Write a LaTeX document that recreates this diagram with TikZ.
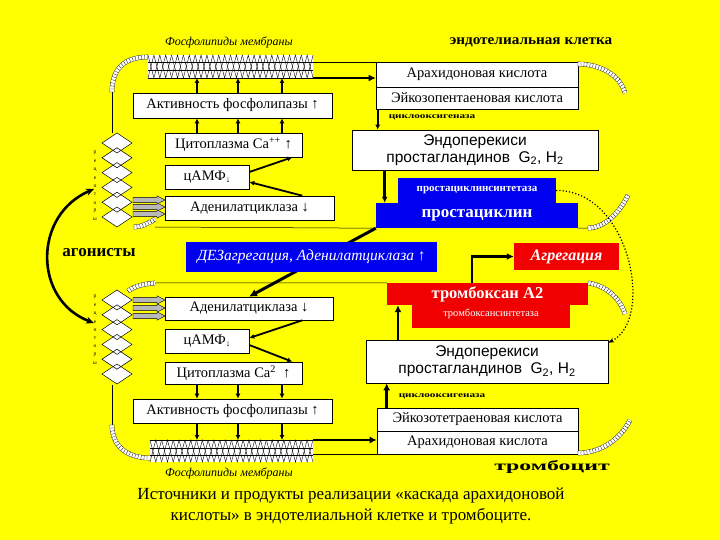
\documentclass[tikz,border=0pt]{standalone}
\usepackage{fontspec}
\setmainfont{Liberation Serif}
\newfontfamily\sansf{Liberation Sans}
\usetikzlibrary{arrows.meta,shapes.arrows,decorations.pathreplacing,calc}
\definecolor{bgyel}{RGB}{255,255,0}
\definecolor{cblue}{RGB}{0,0,240}
\definecolor{cred}{RGB}{240,0,0}
\begin{document}
\begin{tikzpicture}[x=1pt,y=-1pt,
 wbox/.style={draw=black, line width=0.6pt, fill=white, inner sep=0pt, align=center, font=\fontsize{14.5}{16}\selectfont},
 ebox/.style={wbox, font=\sansf\fontsize{15.5}{17}\selectfont},
 bbox/.style={fill=cblue, text=white, inner sep=0pt, align=center},
 rbox/.style={fill=cred, text=white, inner sep=0pt, align=center},
 arr/.style={line width=1.8pt, -{Latex[length=5pt,width=5pt]}},
 harr/.style={line width=2.6pt, -{Latex[length=7pt,width=7pt]}},
 gshape/.style={draw=black, fill=gray!55, line width=0.4pt},
 hatchedge/.style={double, double distance=4pt, line width=0.3pt},
 hatchticks/.style={line width=0.3pt, decorate, decoration={ticks, segment length=3pt, amplitude=2pt}},
 rlet/.style={font=\fontsize{5.5}{6}\selectfont, inner sep=0pt},
 enz/.style={font=\bfseries\fontsize{8}{9}\selectfont, inner sep=0pt},
 mem/.style={line width=0.5pt},
 zig/.style={line width=0.4pt}
]
\fill[bgyel] (0,0) rectangle (720,540);
\useasboundingbox (0,0) rectangle (720,540);

% ---------------- membranes (phospholipids)
\fill[white] (148,55) rectangle (313,78);
\foreach \i in {0,...,13} {
  \draw[zig] ({148+11.79*\i},55) -- ({153.9+11.79*\i},78) -- ({159.8+11.79*\i},55);
  \draw[zig] ({148+11.79*\i},78) -- ({153.9+11.79*\i},55) -- ({159.8+11.79*\i},78);
}
\draw[zig] (148,62) -- (313,62); \draw[zig] (148,70) -- (313,70); \draw[mem] (148,78) -- (313,78);
\fill[white] (150,440) rectangle (313,462);
\foreach \i in {0,...,13} {
  \draw[zig] ({150+11.64*\i},440) -- ({155.8+11.64*\i},462) -- ({161.6+11.64*\i},440);
  \draw[zig] ({150+11.64*\i},462) -- ({155.8+11.64*\i},440) -- ({161.6+11.64*\i},462);
}
\draw[mem] (150,440) -- (313,440); \draw[zig] (150,448) -- (313,448); \draw[zig] (150,455) -- (313,455);
\coordinate (tm) at (313,78); \coordinate (tm2) at (313,62);
\coordinate (bm) at (313,440); \coordinate (bm2) at (313,454);

\node[font=\itshape\fontsize{12}{13}\selectfont] (fl1) at (229,42) {Фосфолипиды мембраны};
\node[font=\itshape\fontsize{12}{13}\selectfont] (fl2) at (229,473) {Фосфолипиды мембраны};
\node[font=\bfseries\fontsize{14.5}{16}\selectfont] (endc) at (531,42) {\scalebox{1.05}[1]{эндотелиальная клетка}};
\node[font=\bfseries\fontsize{14}{16}\selectfont] (thr) at (552,467) {\scalebox{1.7}[1]{тромбоцит}};

% ---------------- right column boxes
\node[wbox, minimum width=202, minimum height=25] (ar1) at (477,74.5) {Арахидоновая кислота};
\node[wbox, minimum width=202, minimum height=22] (eik1) at (477,98) {Эйкозопентаеновая кислота};
\node[ebox, minimum width=246, minimum height=40] (endo1) at (475,150) {Эндоперекиси\\простагландинов~ G\textsubscript{2}, H\textsubscript{2}};
\node[bbox, minimum width=158, minimum height=25, font=\bfseries\fontsize{11}{12}\selectfont] (pcs) at (477,190.5) {простациклинсинтетаза};
\node[bbox, minimum width=202, minimum height=25, font=\bfseries\fontsize{17}{18}\selectfont] (pc) at (477,215.5) {простациклин};
\node[rbox, minimum width=105, minimum height=27, font=\bfseries\itshape\fontsize{16}{17}\selectfont] (agr) at (566.5,256.5) {Агрегация};
\node[rbox, minimum width=158, minimum height=26, font=\fontsize{10.5}{11}\selectfont, text depth=0pt] (txs) at (491,315) {\raisebox{4pt}{тромбоксансинтетаза}};
\node[rbox, minimum width=201, minimum height=22, font=\bfseries\fontsize{16.5}{17}\selectfont] (tx) at (487.5,294) {тромбоксан А2};
\node[ebox, minimum width=242, minimum height=43] (endo2) at (487,361.5) {Эндоперекиси\\простагландинов~ G\textsubscript{2}, H\textsubscript{2}};
\node[wbox, minimum width=201, minimum height=23] (eik2) at (477.5,419.5) {Эйкозотетраеновая кислота};
\node[wbox, minimum width=201, minimum height=23] (ar2) at (477.5,442.5) {Арахидоновая кислота};

\node[enz] (cox1) at (432,117) {\scalebox{1.4}[1]{циклооксигеназа}};
\node[enz] (cox2) at (442,396) {\scalebox{1.4}[1]{циклооксигеназа}};

% ---------------- left column boxes
\node[wbox, minimum width=199, minimum height=25] (act1) at (232.5,105.5) {Активность фосфолипазы ↑};
\node[wbox, minimum width=137, minimum height=24] (cyt1) at (233.5,145) {Цитоплазма Ca\textsuperscript{++} ↑};
\node[wbox, minimum width=84, minimum height=24] (camp1) at (207,177) {цАМФ\raisebox{-2pt}{\fontsize{9}{9}\selectfont ↓}};
\node[wbox, minimum width=169, minimum height=24] (adc1) at (249.5,208) {Аденилатциклаза ↓};
\node[wbox, minimum width=168, minimum height=23] (adc2) at (249,308.5) {Аденилатциклаза ↓};
\node[wbox, minimum width=84, minimum height=24] (camp2) at (207,341) {цАМФ\raisebox{-2pt}{\fontsize{9}{9}\selectfont ↓}};
\node[wbox, minimum width=137, minimum height=22] (cyt2) at (233.5,373) {Цитоплазма Ca\textsuperscript{2}~ ↑};
\node[wbox, minimum width=199, minimum height=24] (act2) at (232.5,411) {Активность фосфолипазы ↑};

% ---------------- cell outlines
\draw[mem] (112,92) -- (112,133);
\draw[mem] (112,385) -- (112,425);
\draw[mem] (155,227) -- (pc.south west);
\draw[mem] (pc.south east) -- (588,228);
\draw[mem] (155,283) -- (tx.north west);
\draw[mem] (tm2) -- (tm2 -| ar1.west);
\draw[mem] (bm2) -- (bm2 -| ar2.west);

\foreach \p in {
  {(112,92) .. controls (112,68) and (125,57) .. (148,57)},
  {(578,64) .. controls (600,64) and (620,75) .. (625,93)},
  {(588,228) .. controls (605,228) and (620,212) .. (628,195)},
  {(588,283) .. controls (605,285) and (620,298) .. (625,314)},
  {(578,453) .. controls (600,453) and (620,440) .. (630,420)},
  {(134,227) .. controls (140,227) and (148,224) .. (155,219)},
  {(128,291) .. controls (135,286) and (143,284) .. (155,283)},
  {(112,425) .. controls (112,447) and (128,458) .. (150,458)}} {
  \draw[hatchedge] \p;
  \draw[hatchticks] \p;
}

% ---------------- receptors
\foreach \y in {133,290} {
  \foreach \k in {0,...,5} \fill[white] (117,{\y+14.8*\k}) -- (132,{\y+10+14.8*\k}) -- (117,{\y+20+14.8*\k}) -- (102,{\y+10+14.8*\k}) -- cycle;
  \foreach \k in {0,...,5} \draw[mem] (117,{\y+14.8*\k}) -- (132,{\y+10+14.8*\k}) -- (117,{\y+20+14.8*\k}) -- (102,{\y+10+14.8*\k}) -- cycle;
}
\foreach \l [count=\i] in {р,е,ц,е,п,т,о,р,ы} {
  \node[rlet] at (95,{144.7+8.3*\i}) {\l};
  \node[rlet] at (95,{288.8+8.25*\i}) {\l};
}

% gray arrows receptors -> adenylate cyclase
\foreach \y in {200,207,214,300,308,316} {
  \draw[gshape] (133,{\y-2.6}) -- (157,{\y-2.6}) -- (157,{\y-4.2}) -- (165,\y) -- (157,{\y+4.2}) -- (157,{\y+2.6}) -- (133,{\y+2.6}) -- cycle;
}

% ---------------- agonists
\node[font=\bfseries\fontsize{17}{18}\selectfont] (ago) at (99,253) {агонисты};
\coordinate (ag1) at (94,189);
\coordinate (ag2) at (94,323);
\draw[line width=2.6pt, {Stealth[length=8pt,width=7pt]}-{Stealth[length=8pt,width=7pt]}] (ag1) .. controls (33,215) and (33,300) .. (ag2);

% ---------------- arrows right column
\draw[harr] (tm) -- (tm -| ar1.west);
\draw[harr] (bm) -- (bm -| ar2.west);
\coordinate (e1) at ([xshift=2pt]eik1.south west);
\draw[arr] (e1) -- (e1 |- endo1.north);
\coordinate (e2) at ([xshift=33pt]endo1.south west);
\draw[line width=2.6pt, -{Latex[length=6pt,width=6pt]}] (e2) -- (e2 |- pc.north);
\coordinate (e3) at ([xshift=-89pt]endo2.north);
\draw[harr] (e3) -- (e3 |- tx.south);
\coordinate (e4) at ([xshift=10pt]eik2.north west);
\draw[harr] (e4) -- (e4 |- endo2.south);
\draw[harr] ([xshift=-15.5pt]tx.north) |- (agr.west);
\draw[dotted, line width=1.2pt, -{Stealth[length=6pt]}] (pcs.east) .. controls (630,190) and (655,320) .. ([yshift=-3pt]endo2.north east);

% prostacyclin -> adenylate cyclase (behind the blue box)
\draw[line width=3pt, -{Latex[length=8pt,width=8pt]}] (pc.south west) -- (adc2.north);
\node[bbox, minimum width=251, minimum height=30, font=\itshape\fontsize{15.5}{17}\selectfont] (dez) at (311.5,257) {ДЕЗагрегация, Аденилатциклаза ↑};

% ---------------- arrows left column
\foreach \x [count=\i] in {197,238,282} {
  \coordinate (m\i) at (\x,78);
  \coordinate (n\i) at (\x,440);
  \draw[arr] (act1.north -| m\i) -- (m\i);
  \draw[arr] (cyt1.north -| m\i) -- (act1.south -| m\i);
  \draw[arr] (cyt2.south -| m\i) -- (act2.north -| m\i);
  \draw[arr] (act2.south -| n\i) -- (n\i);
}
\draw[arr] ([xshift=-32pt]adc1.north east) -- ([yshift=-5pt]camp1.east);
\draw[arr] ([yshift=5pt]camp1.east) -- ([xshift=-10pt]cyt1.south east);
\draw[arr] ([xshift=-31pt]adc2.south east) -- ([yshift=3pt]camp2.east);
\draw[arr] ([yshift=-4pt]camp2.east) -- ([xshift=-10pt]cyt2.north east);

% ---------------- caption
\node[font=\fontsize{17}{21}\selectfont, align=center] (cap) at (351,506) {Источники и продукты реализации «каскада арахидоновой\\кислоты» в эндотелиальной клетке и тромбоците.};
\end{tikzpicture}
\end{document}
